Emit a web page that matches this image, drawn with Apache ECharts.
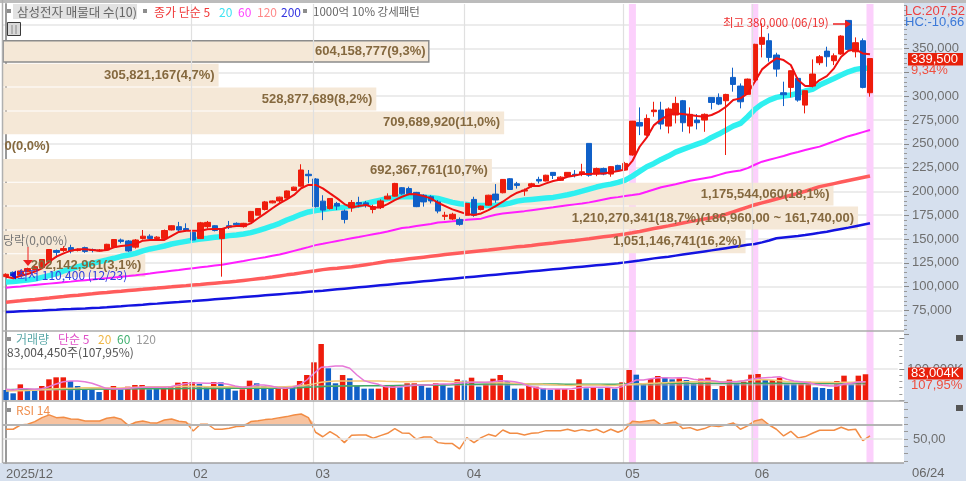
<!DOCTYPE html>
<html><head><meta charset="utf-8">
<style>html,body{margin:0;padding:0;background:#fff}#c{width:966px;height:481px}</style>
<script src="https://cdn.jsdelivr.net/npm/echarts@6/dist/echarts.min.js"></script>
</head><body><div id="c"></div>
<script>
// prices in thousands of won
const opens=[110.5,115,112,116,118,120,126,138,138,141,
138,141,139,137.5,138.5,141.5,149,148,141.5,150.5,
153,150.5,150.5,159.5,163,161,157,150.5,163,164,
150.5,164,166.5,163,168,175,181,188,190,193,
201,205.5,218,213,
189.8,182,187.4,179.4,182.9,188.4,
188,181,183,192,195,203.9,203,199,196,194.4,
189,173.8,171,170.6,175,191.6,181,185.6,197.2,198.6,
213.3,208,200.4,205.6,212.6,210.9,220,211.6,215.8,218,
218,250.4,218.2,224,218.2,227.3,222.4,238.2,272.4,259.1,
283.7,285.4,268.6,280.2,295.2,268.6,274.9,274.9,298.7,298.7,
295.2,319.7,310.6,301.9,316.9,354.4,358.2,343.2,303.6,309.2,
318.7,290.6,310.6,335.1,347.3,337.2,344.2,379.5,346.6,358.2,303.6];
const closes=[113,111.5,116.5,119,121,128.5,139,136,140,137.5,
139,137,138,138.5,144.5,149.5,147.5,137.5,149,153,
150.5,152,159,164,159.5,159.5,149,167,167.5,159,
161,162.5,165,166.5,179,182,189,190,194,200.5,
204.5,222.5,216.5,184,
180.4,192.6,184.6,170.6,188.4,186.7,
186,184,190,195,208.4,197.5,197.5,184,189,190,
179.4,175,176,165.4,187.4,175,184.6,196,191,212.6,
202,206.3,201.3,208,210.9,217,216.8,215,220,216.8,
220.6,217,224,218.2,226,221.7,229.4,273.8,268.6,276.6,
285.4,270.7,286.5,292.4,272.1,280.9,272.1,280.9,293.4,291.7,
301.8,312.3,294.1,317.9,354.4,361.7,340.7,328.4,301.5,326.7,
295.9,305.7,323.2,341.4,341.4,342.4,363.1,349.1,356.1,309.2,339.5];
const lows=[110.5,110.4,111.5,115,117,119,125,130.5,136.5,135,
137,135.5,136,137,138,141,145.5,136.5,140,149.5,
149,150,149.5,159,157,158,148.5,150,161,158,
110.5,160.5,164,162,168,175,180,187.5,188,192.5,
200.5,205,208.5,183,
169.9,181,180.4,166.4,178.6,183.2,
183,177,181.5,191.6,194.5,196.5,196,183.5,184,187.4,
177,169.9,169.9,164,174.5,173.4,180,185,188,198,
201.5,203,195.4,204,208.4,210.5,213,211,215.5,214.7,
216,215.4,216,217,215.4,220.5,222,237.5,259.1,258,
278.4,265.1,260.9,271.4,262.6,260.9,265.1,262.6,286.1,290.6,
238.2,304.7,287.2,301.5,316,340.7,336.2,320.4,289.6,298.7,
294.2,281.9,309.2,332.6,330.9,332.6,343.5,348.5,340.7,308.2,299.4];
const highs=[114,116,117.5,120,122,129,139.5,139,142.5,144,
140,142,140,139.5,145,150,150.5,149,150,159.5,
155,153,160,164.5,168,166.5,157.5,168,169,164.5,
161.5,169,167.5,167,179.5,182.5,190,190.5,194.5,201,
205,228.5,222.5,214,
196,193,189,181,191,194.4,
190,186,191.6,198,209,204.5,205,199.5,197,196,
191,178.6,177.6,172.7,188,194.4,185,196.5,207.7,213,
214,210,203,209,215.4,217.5,220,216,220,222.4,
229,250.4,225,225,226.5,228,231,274,288.2,280.8,
294.1,294.1,288.2,299.4,296,288.2,281.2,281.9,298.7,302.9,
302.5,329.9,313.4,318.5,355,376.4,365.9,345.6,315.2,327,
320,306,338.6,343.2,351.9,344.9,364,380,361.7,360.6,339.5];
const ma5=[110.5,108.8,111.2,113.3,115.8,119.3,126.3,131.5,135,137.8,
139.2,139.2,138.5,137.8,138.5,141.3,142.7,143.4,144.8,148.3,
149,149,149,153.2,157.4,158.8,158.8,158.8,160.2,160.6,
160.6,163,163.7,163.7,166.5,171.8,177,182.3,187.5,191.7,
196.3,203.3,206.8,206.8,
203.2,197.9,192.7,186.7,183.2,184.6,
185.7,183.2,183.2,186.7,190.9,194.4,197.2,196.9,195.1,192.7,
188.1,184.6,181.1,178.6,176.2,175.2,176.9,180.4,184.6,189.2,
194.4,198.6,201.4,205.6,205.6,208.4,210.9,212.6,215.4,216.8,
218.2,218.2,218.9,218.9,220,221.4,223.1,232,246.9,256.7,
269.6,275.6,280.2,281.9,281.2,280.2,279.1,278.4,280.2,283.7,
288.9,295.9,297.7,302.9,315.2,328.1,334.4,339.7,337.9,332.7,
316.9,310.6,310.6,316.9,321.1,329.2,341.4,347.7,349.1,344.9,343.9];
const ma20=[104.9,105.3,106.3,107,108,109.8,111.6,113.7,116.5,118.6,
121,122.8,124.5,126.3,128,129.8,131.9,133.3,135,137.5,
139.6,141,142.7,144.8,146.2,147.6,149,150,150.8,151.8,
152.5,153.6,154.3,155.3,156.7,158.8,161.3,163.7,166.5,170,
172.8,176,178.4,179.8,
181.1,182.1,182.8,183.5,184.6,185.6,
187.4,189.2,190.9,192.6,194,194.4,194.4,194.4,194,193.7,
192.6,190.6,188.5,187,186.3,185.3,185.3,185.3,185.6,186.3,
187.7,189.8,190.9,191.6,192.3,193,193.7,195.1,196.5,198.2,
200.3,202.5,204.6,206.3,207.7,209.5,211.9,216.1,221,225.9,
229.4,233.6,237.1,241.3,244.1,246.9,249.7,252.2,256.7,260.2,
264.4,268.6,271.4,278.4,286.1,291.7,295.9,298.7,300.1,301.2,
302.9,305.4,307.1,311.6,315.2,318.6,322.2,325.6,328.1,329.2,329.2];
const ma60=[98.9,99.6,100.3,101.1,101.8,102.5,103.2,103.9,104.6,105.3,
106.1,106.8,107.5,108.2,108.9,109.6,110.4,111.1,111.9,112.9,
113.8,114.8,115.7,116.6,117.5,118.5,119.4,120.3,121.2,122.2,
123.1,124.4,125.7,127,128.4,129.7,131,132.4,133.7,135.7,
137.6,139.5,141.5,143.6,145,146.5,148,149.4,150.9,152.2,
153.6,155,156.4,158,159.8,161.6,162.5,163.6,164.7,165.8,
167.3,168,168.6,169.3,170.2,170.8,171.4,173.6,175.5,176.7,
177.7,178.5,179.3,180.3,181.3,182.3,183.3,184.4,185.4,186.4,
187.4,188.5,190,191.5,193,194,195.2,196.2,197.3,199.6,
202,204.4,206,207.6,209.3,211.2,212.5,213.8,215.1,217.4,
219.6,220.8,222,224.5,228,231.2,233.2,235.2,237.2,239.5,
241.4,243.4,245.3,247,249.8,252.5,255.3,258,260,262.2,264.4];
const ma120=[83.6,84.35,85.1,85.9,86.6,87.4,88.1,88.9,89.6,90.4,
91.1,91.9,92.6,93.4,94,94.7,95.3,96,96.6,97.2,
97.9,98.5,99.2,99.8,100.5,101.1,101.8,102.4,103.1,103.7,
104.3,105,105.6,106.5,107.4,108.3,109.2,110.2,111.3,112.4,
113.4,114.5,115.6,116.7,117.9,118.7,119.4,120.2,121,122,
123.1,124.2,125.4,126.6,127.4,128.3,129.2,130.1,131,131.9,
132.8,133.7,134.5,135.3,136.1,136.9,137.7,138.5,139.4,140.2,
141,141.8,142.5,143.3,144.2,145.1,145.9,146.8,147.7,148.5,
149.4,150.3,151.3,152.3,153.3,154.3,155.3,156.6,158,159.5,
161,162.4,163.8,165.3,166.8,168.3,169.6,171,172.4,174,
176,178.5,181,183.5,186,188,190,192,194,196,
198,200.2,202.5,205,206.6,208.2,209.8,211.4,213,214.6,216.2];
const ma200=[73.4,73.75,74.1,74.4,74.8,75.1,75.5,75.8,76.2,76.5,
76.9,77.2,77.6,77.9,78.4,79,79.5,80.1,80.6,81.1,
81.7,82.2,82.8,83.3,83.8,84.4,84.9,85.5,86.1,86.7,
87.3,87.9,88.5,89.1,89.7,90.3,90.9,91.5,92.1,92.7,
93.3,93.9,94.6,95.2,95.8,96.5,97.2,97.9,98.6,99.3,
100,100.7,101.4,102.1,102.8,103.5,104.2,104.9,105.6,106.3,
107,107.7,108.4,109.1,109.8,110.5,111.2,111.9,112.6,113.3,
114,114.7,115.4,116.1,116.8,117.5,118.2,118.9,119.6,120.3,
121,121.7,122.4,123.1,123.8,124.5,125.5,126.5,127.5,128.6,
129.7,130.6,131.5,132.6,133.7,134.8,135.9,137,138.1,139.2,
140.4,141.6,142.8,144,144.8,146.5,148.5,150.8,151.6,152.4,
153.2,154.2,155.4,156.5,157.7,159.2,160.6,162,163.5,165,166.5];
// volume in millions of shares
const volume=[32.3,21.5,50.5,34.4,29,45.2,66.7,73.1,73.1,61.3,
45.2,34.4,34.4,25.8,34.4,45.2,34.4,43,48.4,48.4,
34.4,43,40.9,43,55.9,58,58,51.6,43,58,
57,43,30.1,34.4,62.4,53.8,45.2,37.6,40.9,43,
45.2,61.3,80.6,121.5,180.6,102.2,53.8,80.6,69.9,48.4,
36.6,36.6,36.6,43,48.4,40.9,53.8,53.8,48.4,39.8,
53.8,51.6,39.8,66.7,62.4,72,43,50.5,68.8,80.6,
61.3,36.6,36.6,45.2,43,37.6,33.3,35.5,35.5,32.3,
66.7,37.6,40.9,36.6,38.7,36.6,57,96.8,81.7,53.8,
67.7,77.4,72,66.7,69.9,64.5,53.8,68.8,72,35.5,
45.2,65.6,53.8,59.1,81.7,83.9,64.5,64.5,72,50.5,
51.6,53.8,59.1,40.9,38.7,35.5,61.3,78.5,50.5,78.5,83.0];
const volRise=[0,0,1,0,0,1,1,1,1,0,
0,0,0,0,1,1,0,1,1,1,
0,0,1,1,1,1,1,0,0,1,
0,0,0,1,1,0,0,0,1,1,
0,1,1,1,1,0,0,1,0,0,
0,0,1,1,1,0,1,1,0,0,
1,0,0,1,0,1,0,1,1,1,
0,0,1,1,1,0,0,1,1,1,
1,0,1,0,1,0,1,1,0,0,
1,1,0,0,1,0,0,1,1,0,
1,1,0,1,1,1,0,1,1,0,
0,1,1,0,0,0,1,1,0,1,1];
const volMa5=[34.4,32.3,36.6,36.6,34.4,36.6,43,51.6,59.1,61.3,
61.3,59.1,53.8,46.2,37.6,36.6,36.6,37.6,39.8,40.9,
40.9,40.9,40.9,43,48.4,52.7,54.8,54.8,53.8,53.8,
53.8,50.5,45.2,40.9,43,48.4,48.4,45.2,39.8,37.6,
40.9,48.4,64.5,86,105.4,107.5,109.7,109.7,102.2,80.6,
62.4,55.9,50.5,43,40.9,43,45.2,47.3,48.4,48.4,
50.5,51.6,51.6,53.8,55.9,57,57,57,59.1,62.4,
61.3,59.1,53.8,45.2,39.8,36.6,35.5,35.5,35.5,36.6,
39.8,40.9,40.9,40.9,40.9,38.7,43,53.8,64.5,64.5,
68.8,72,72,71,72,72,66.7,63.4,63.4,61.3,
57,59.1,59.1,62.4,66.7,69.9,72,73.1,75.3,66.7,
61.3,59.1,55.9,50.5,47.3,45.2,45.2,51.6,53.8,58,59.1];
const volMa20=[29,29.5,30,31,32.3,33.5,35,36,37,38,
38.7,39.8,39.8,39.8,38.7,38.7,38.7,39.8,40.9,41.9,
43,43,43,43,43.5,44,44,44,43,43,
43,43,43,42,42,42,42,42,42,42.5,
44,46,48.4,52,57,60,61.3,61.3,61.3,61.3,
61.3,61.3,61.3,60.5,60,59.1,59.1,60,60.5,61.3,
61.3,61,60,59,58,57,57,56.5,56,56,
55,54,53,52,51.6,50.5,49.5,48.4,47.5,47,
48,48.4,48.4,48,47,47,49,50,51.6,52.7,
53.8,54.8,55.9,57,58,59.1,59.1,59.1,59.1,59.1,
59.1,60,60,62,64.5,65.6,65.6,64.5,62.4,60,
59.1,58,58,57,57,57,56.5,57,57,58,59];
const volMa60=[33,33.5,34,34,34,34.4,34.4,34.4,35,35,
35,35,35.5,35.5,35.5,35.5,36,36,36,36,
36.6,36.6,36.6,36.6,36.6,37,37,37,37,37,
37,37.6,37.6,37.6,37.6,37.6,38,38,38,38.7,
39,39.8,40.9,42,43,44,44,45,45,45.2,
46,46,46,46.2,46.2,47,47,47,48.4,48.4,
48.4,48.4,49,50.5,50.5,50.5,51,51.6,51.6,51.6,
51.6,51.6,52,52,52,52,51.6,51.6,51,51,
51,51,51,51,51,51,51.6,51.6,52,52.7,
52.7,53,53.8,53.8,53.8,53.8,53.8,53.8,53.8,53.8,
53.8,53.8,53.8,53.8,54,54,54,54,54,54,
54,54,54,54,54,54,54,54,54,54.5,54.8];
const volMa120=[30,30.5,31,31,31.5,32,32,32.5,33,33,
33.5,34,34,34.5,35,35,35.5,36,36,36.5,
37,37,37.5,38,38,38.5,39,39,39.5,40,
40,40.5,41,41,41.5,42,42,42.5,43,43,
43.5,44,44,44.5,45,45,45.5,46,46,46.5,
46.5,47,47,47,47.5,47.5,47.5,48,48,48,
48,48,48.4,48.4,48.4,48.4,48.4,48.4,48.4,48.4,
48.4,48.4,48.4,48.4,48.4,48.4,48.4,48.4,48.4,48.4,
48.4,48.4,48.4,48.4,48.4,48.4,48.4,48.4,48.4,48.4,
48.4,48.6,48.6,48.6,48.6,48.6,48.6,48.6,48.6,48.6,
48.8,48.8,48.8,48.8,48.8,48.8,48.8,48.8,48.8,48.8,
49,49,49,49,49,49,49,49,49,49,49];
const rsi=[63.2,63.2,69,70,73.6,79,82.7,79,79.5,77.2,
76.8,74.5,74.5,74.5,78.1,79.5,76.8,68.1,72.7,74.5,
72.2,71.8,75.8,77.2,74,73.1,60.9,70,70,63.2,
63.2,64.5,66.8,67.2,73.6,74.9,76.3,77.2,79,80.4,
82.7,84,79,59.1,53,60,54.1,45,55,55.4,
55.4,50.9,54.5,57.7,64.1,58.2,57.7,49.5,52.7,52.7,
45,43.7,43.7,36.4,51.8,45,51.8,56.3,53.6,62.2,
57.7,57.7,55.4,57.7,58.6,61.3,61.3,61.3,63.2,60.4,
62.7,60.9,63.2,58.6,63.2,59.1,63.2,74,73.1,74.5,
75.8,69,71.8,73.1,64.1,65.4,61.8,64.1,68.1,66.8,
69,71.8,63.2,67.7,74.5,76.8,69,63.2,54.1,60.4,
51.4,53.2,57.7,61.8,61.8,61.8,65.9,62.2,63.2,47.7,54.1];
const rsiLevels=[50,70];
const monthStarts=[0,26,43,64,86,104];
const monthLabels=['2025/12','02','03','04','05','06'];
const highlighted=[87,104,120];
const profileVols=[604158777,305821167,528877689,709689920,0,692367761,1175544060,1210270341,1051146741,202142961];
const profilePcts=['9,3','4,7','8,2','11,0','0,0','10,7','18,1','18,7','16,2','3,1'];
const currentRange='(186,960,00 ~ 161,740,00)';
const currentRangeIndex=7;
const outlinedIndex=0;
const priceLabelMin=75, priceLabelMax=350, priceLabelHidden=[325];

const N=opens.length;
for(const a of [closes,lows,highs,ma5,ma20,ma60,ma120,ma200,volume,volRise,volMa5,volMa20,volMa60,volMa120,rsi])
  if(a.length!==N) throw new Error('length mismatch '+a.length+' vs '+N);

const SLOTS=125, cats=Array.from({length:SLOTS},(_,i)=>String(i));
const pad=a=>a.slice();
const nar="'Liberation Sans Narrow','Liberation Sans',sans-serif";
const kr="'Noto Sans CJK KR','Noto Sans',sans-serif";
const GRID={left:2.4,width:900};
const RED='#ee1c0c',BLUE='#1060c8',AXC='#6f6f6f',GL='#e6e6e6';
const fmt=n=>Math.round(n).toLocaleString('en-US');

function txt(x,y,t,fill,size,extra){return Object.assign({type:'text',x,y,z:20,silent:true,style:Object.assign({text:t,fill,font:(size||12)+'px '+kr,textVerticalAlign:'middle'},extra||{})},{});}
function box(x,y,w,h,fill,z,stroke){return {type:'rect',z:z==null?-1:z,silent:true,shape:{x,y,width:w,height:h},style:{fill,stroke:stroke||null,lineWidth:stroke?1:0}};}
function hline(x1,x2,y,c,w){return {type:'line',z:15,silent:true,shape:{x1,y1:y,x2,y2:y},style:{stroke:c,lineWidth:w||1}};}

const graphic=[
 box(904,3,62,460,'#d6e0ee'), box(0,463,966,18,'#d6e0ee'),
 box(13,4,124,15,'#e2e2e2'),
 box(7,9,4,4,'#8d8d8d',16), box(143,9,4,4,'#8d8d8d',16), box(303,9,4,4,'#8d8d8d',16),
 txt(17,12,'삼성전자 매물대 수(10)','#666',12.5),
 txt(154,12,'종가 단순 5','#f03838',12),
 txt(219,12,'20','#3fe3f2',12), txt(238,12,'60','#ff45ff',12), txt(257,12,'120','#ff8a8a',12), txt(281,12,'200','#3535e0',12),
 txt(313,12,'1000억 10% 강세패턴','#666',11.5),
 box(7.5,22.5,13,13,'#d9d9d9',16,'#3a3a3a'),
 hline(9,19,26,'#8a8a8a'),hline(9,19,29,'#8a8a8a'),hline(9,19,32,'#8a8a8a'),
 {type:'line',z:16,silent:true,shape:{x1:12,y1:25,x2:12,y2:34},style:{stroke:'#8a8a8a',lineWidth:1}},
 {type:'line',z:16,silent:true,shape:{x1:16,y1:25,x2:16,y2:34},style:{stroke:'#8a8a8a',lineWidth:1}},
 // frame
 hline(0,966,1.5,'#bcbcbc',3), hline(3,904,331,'#ababab',1.5), hline(3,904,401,'#ababab',1.5), hline(3,904,463,'#a0a0a0',1.5),
 {type:'line',z:15,silent:true,shape:{x1:2.5,y1:0,x2:2.5,y2:463},style:{stroke:'#b0b0b0',lineWidth:1.5}},
 // high / low annotations
 txt(723,23,'최고 380,000 (06/19)','#ee3030',11.5),
 {type:'line',z:20,silent:true,shape:{x1:833,y1:24,x2:846,y2:24},style:{stroke:'#ee2020',lineWidth:1.5}},
 {type:'polygon',z:20,silent:true,shape:{points:[[845,20],[851,24],[845,28]]},style:{fill:'#ee2020'}},
 txt(17,275,'최저 110,400 (12/23)','#3040e0',12),
 {type:'polygon',z:20,silent:true,shape:{points:[[10,275],[16,270.5],[16,279.5]]},style:{fill:'#1515d0'}},
 txt(3,240,'당락(0,00%)','#777',12),
 {type:'line',z:20,silent:true,shape:{x1:28,y1:247,x2:28,y2:260},style:{stroke:'#ee2020',lineWidth:1}},
 {type:'polygon',z:20,silent:true,shape:{points:[[23,260],[33,260],[28,266]]},style:{fill:'#ee2020'}},
 // right panel readouts
 txt(905,11,'LC:207,52','#ee4040',12,{font:'13px '+nar}), txt(905,22,'HC:-10,66','#3a78d8',12,{font:'13px '+nar}),
 box(908,53,55,12.5,'#e8200a',16), txt(911,59.5,'339,500','#fff',12,{font:'13px '+nar}),
 txt(911,70.5,'9,34%','#ee5040',12,{font:'13px '+nar}),
 box(908,367.5,55,12,'#e8200a',16), txt(911,373.5,'83,004K','#fff',12,{font:'13px '+nar}),
 txt(911,385,'107,95%','#ee5040',12,{font:'13px '+nar}),
 box(956,335,7,6,'#555',16), box(956,405,7,6,'#555',16),
 txt(912,473,'06/24','#666',12,{font:'13px '+nar}),
 // lower panel legends
 box(7,337,4,4,'#8d8d8d',16),
 txt(16,339,'거래량','#5aa8a8',12), txt(58,339,'단순 5','#e050c8',12), txt(98,339,'20','#f0b848',12), txt(117,339,'60','#40b070',12), txt(136,339,'120','#9a9a9a',12),
 txt(7,352,'83,004,450주(107,95%)','#555',12),
 box(7,408,4,4,'#8d8d8d',16), txt(16,410,'RSI 14','#f09050',12)
];

const hlData=cats.map((_,i)=>highlighted.includes(i)?1:0);
const lineS=(name,data,xi,yi,color,w,z)=>({name,type:'line',xAxisIndex:xi,yAxisIndex:yi,data:pad(data),showSymbol:false,symbol:'none',smooth:false,z,silent:true,animation:false,lineStyle:{color,width:w}});
const profileLabel=i=>fmt(profileVols[i])+'('+profilePcts[i]+'%)'+(i===currentRangeIndex?currentRange:'');

const option={
 animation:false,
 backgroundColor:'#fff',
 graphic:{elements:graphic},
 grid:[
  {left:GRID.left,width:GRID.width,top:0.9,height:333.4},
  {left:GRID.left,width:GRID.width,top:338.3,height:61.7},
  {left:GRID.left,width:GRID.width,top:402.2,height:58.8},
  {left:GRID.left,width:GRID.width,top:4,height:459},
  {left:GRID.left,width:GRID.width,top:39.5,height:238}
 ],
 xAxis:[
  {gridIndex:0,type:'category',data:cats,show:false},
  {gridIndex:1,type:'category',data:cats,show:false},
  {gridIndex:2,type:'category',data:cats,show:false},
  {gridIndex:3,type:'category',data:cats,axisLine:{show:false},axisTick:{show:false},
   axisLabel:{interval:(i)=>monthStarts.includes(i),formatter:(v,i)=>monthLabels[monthStarts.indexOf(i)]||'',align:'left',margin:5,fontFamily:nar,fontSize:13,color:'#666',showMinLabel:true,hideOverlap:false}},
  {gridIndex:3,type:'value',min:-0.5,max:SLOTS-0.5,show:false},
  {gridIndex:4,type:'value',min:0,max:1273e6,show:false}
 ],
 yAxis:[
  {gridIndex:0,type:'value',position:'right',offset:1.6,min:50,max:400,interval:25,
   axisLine:{show:false},axisTick:{show:true,length:5,lineStyle:{color:'#888'}},
   minorTick:{show:true,splitNumber:5,length:3,lineStyle:{color:'#999'}},
   axisLabel:{margin:8,color:AXC,fontFamily:nar,fontSize:13,formatter:v=>(v>=priceLabelMin&&v<=priceLabelMax&&!priceLabelHidden.includes(v))?fmt(v*1000):''},
   splitLine:{show:true,showMinLine:false,showMaxLine:false,lineStyle:{color:GL,width:1.5}}},
  {gridIndex:1,type:'value',position:'right',offset:1.6,min:0,max:199,interval:100,
   axisLine:{show:false},axisTick:{show:true,length:5,lineStyle:{color:'#888'}},
   minorTick:{show:true,splitNumber:5,length:3,lineStyle:{color:'#999'}},
   axisLabel:{margin:8,color:AXC,fontFamily:nar,fontSize:13,formatter:v=>v===100?'100,000K':''},
   splitLine:{show:true,showMinLine:false,showMaxLine:false,lineStyle:{color:GL,width:1.5}}},
  {gridIndex:2,type:'value',position:'right',offset:1.6,min:20,max:100,interval:10,
   axisLine:{show:false},axisTick:{show:true,length:4,lineStyle:{color:'#999'}},
   axisLabel:{margin:9,color:AXC,fontFamily:nar,fontSize:13,formatter:v=>v===50?'50,00':''},
   splitLine:{show:false}},
  {gridIndex:3,type:'value',position:'right',offset:1.6,min:0,max:1,
   axisLine:{show:true,lineStyle:{color:'#9a9a9a',width:2}},axisTick:{show:false},axisLabel:{show:false},splitLine:{show:false}},
  {gridIndex:4,type:'category',data:profilePcts.map((_,i)=>String(i)),inverse:true,show:false}
 ],
 series:[
  {name:'highlight',type:'bar',xAxisIndex:3,yAxisIndex:3,data:hlData,barCategoryGap:0,barWidth:7,z:0,silent:true,itemStyle:{color:'#fcd0fc'}},
  {name:'months',type:'line',xAxisIndex:4,yAxisIndex:3,data:[],z:0,silent:true,
   markLine:{silent:true,symbol:'none',label:{show:false},lineStyle:{color:'#e0e0e0',width:1.2,type:'solid'},data:monthStarts.slice(1).map(m=>({xAxis:m-0.3}))}},
  {name:'profile',type:'bar',xAxisIndex:5,yAxisIndex:4,barCategoryGap:'4%',barGap:'-100%',z:1,silent:true,
   data:profileVols.map((v,i)=>({value:v,itemStyle:{color:'#f5e8d7',borderColor:i===outlinedIndex?'#8c8c8c':null,borderWidth:i===outlinedIndex?1.5:0}}))},
  lineS('MA200',ma200,0,0,'#1414e0',2.5,2),
  lineS('MA120',ma120,0,0,'#ff5c5c',3.5,2),
  lineS('MA60',ma60,0,0,'#ff1eff',2,2),
  lineS('MA20',ma20,0,0,'#2ff0f0',5.5,2),
  {name:'price',type:'candlestick',xAxisIndex:0,yAxisIndex:0,z:3,silent:true,barWidth:6,
   data:opens.map((o,i)=>[o,closes[i],lows[i],highs[i]]),
   itemStyle:{color:RED,color0:BLUE,borderColor:RED,borderColor0:BLUE,borderWidth:1}},
  lineS('MA5',ma5,0,0,'#ee1010',2,4),
  {name:'profileLabels',type:'bar',xAxisIndex:5,yAxisIndex:4,barCategoryGap:'4%',barGap:'-100%',z:9,silent:true,
   itemStyle:{color:'rgba(0,0,0,0)'},
   data:profileVols.map((v,i)=>({value:v,label:{show:true,formatter:profileLabel(i),position:v===0?'right':'insideRight',distance:v===0?2:4,color:'#85693f',fontFamily:"'Liberation Sans',sans-serif",fontWeight:'bold',fontSize:13}}))},
  {name:'volume',type:'bar',xAxisIndex:1,yAxisIndex:1,barWidth:5.5,z:2,silent:true,
   data:volume.map((v,i)=>({value:v,itemStyle:{color:volRise[i]?RED:BLUE}}))},
  lineS('volMa120',volMa120,1,1,'#b0b0b0',1,3),
  lineS('volMa60',volMa60,1,1,'#3fa866',1.5,3),
  lineS('volMa20',volMa20,1,1,'#f3c877',1.5,3),
  lineS('volMa5',volMa5,1,1,'#e67ad8',1.5,3),
  {name:'rsiLevels',type:'line',xAxisIndex:2,yAxisIndex:2,data:[],z:1,silent:true,
   markLine:{silent:true,symbol:'none',label:{show:false},data:rsiLevels.map(l=>({yAxis:l,lineStyle:{color:l===70?'#b4b4b4':'#e4e4e4',width:l===70?2:1.5,type:'solid'}}))}},
  {name:'rsiFill',type:'line',xAxisIndex:2,yAxisIndex:2,data:rsi.map(v=>Math.max(v,70)),symbol:'none',z:2,silent:true,lineStyle:{width:0,opacity:0},areaStyle:{color:'#f7c3a0',opacity:1,origin:70}},
  lineS('RSI',rsi,2,2,'#f28c44',1.5,3)
 ]
};
echarts.init(document.getElementById('c'),null,{renderer:'canvas'}).setOption(option);
</script></body></html>
